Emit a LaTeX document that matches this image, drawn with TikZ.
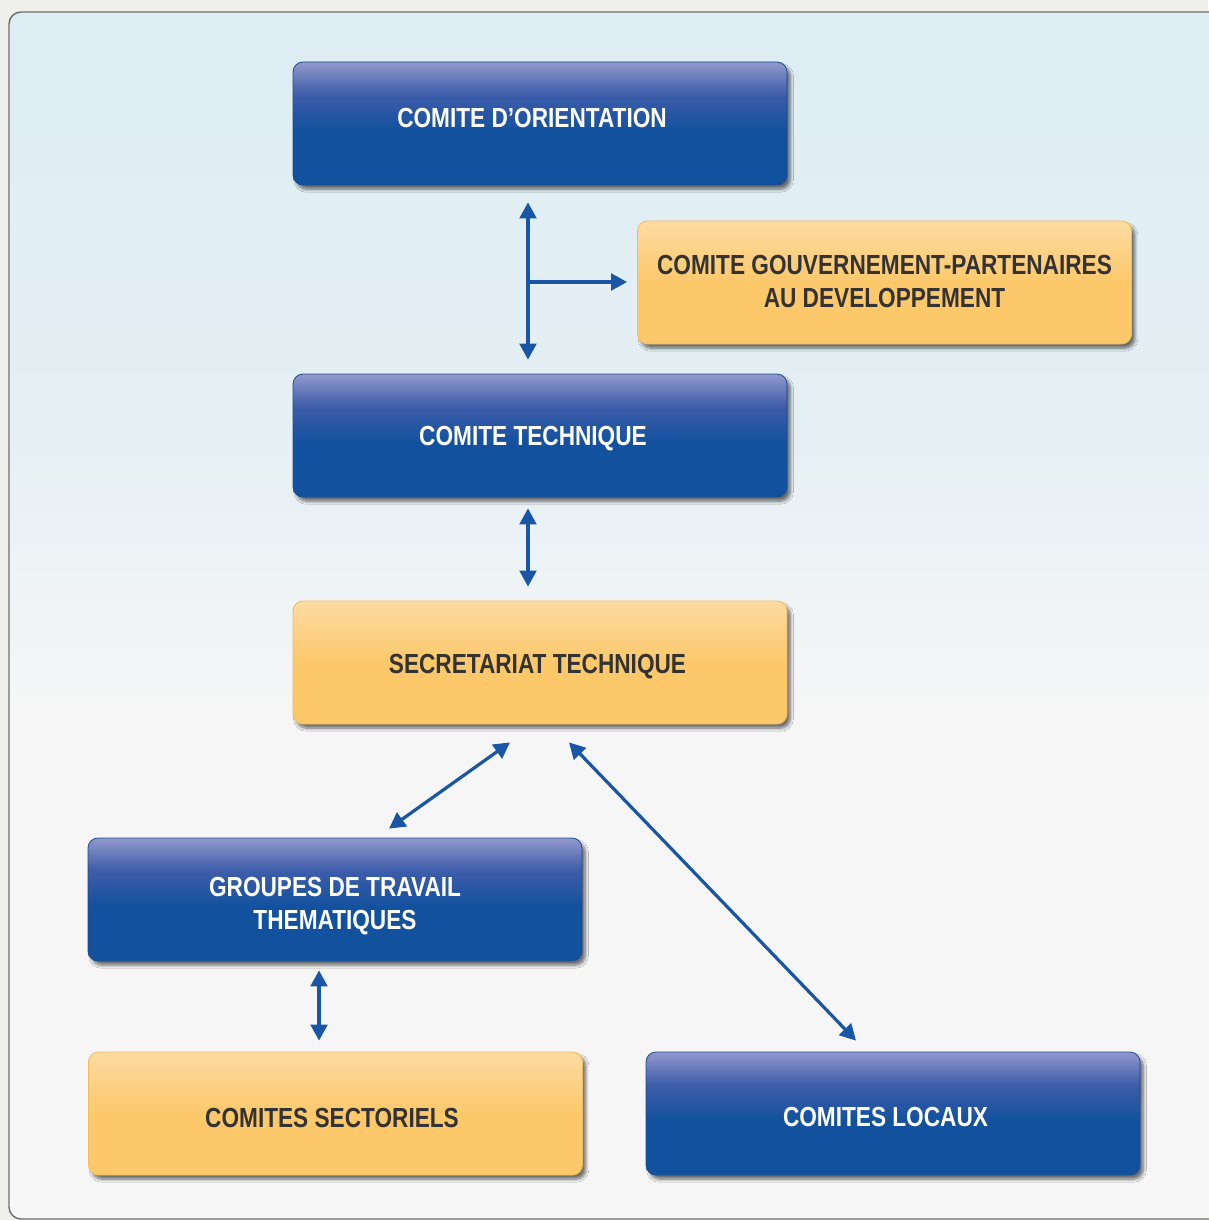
\documentclass[tikz,border=0pt]{standalone}
\usepackage{fontspec}
\setmainfont{Liberation Sans}[FakeStretch=0.82]
\usetikzlibrary{arrows.meta,shadows.blur,calc}
\definecolor{blueB}{HTML}{12519E}
\definecolor{blueM}{HTML}{3E5DAA}
\definecolor{blueT}{HTML}{9299CB}
\definecolor{blueEdge}{HTML}{1A4C90}
\definecolor{orB}{HTML}{FCC86A}
\definecolor{orT}{HTML}{FDDBA3}
\definecolor{orEdge}{HTML}{F2BC58}
\definecolor{bgT}{HTML}{DDEDF3}
\definecolor{bgM}{HTML}{E6F0F4}
\definecolor{bgB}{HTML}{F6F6F6}
\definecolor{outbg}{HTML}{EFEFEC}
\definecolor{frameC}{HTML}{6E6E6E}
\definecolor{arrowc}{HTML}{1A56A8}
\definecolor{txtd}{HTML}{333333}
\pgfdeclareverticalshading{blueshade}{100bp}{color(0bp)=(blueB); color(25bp)=(blueB); color(47bp)=(blueB); color(62bp)=(blueM); color(75bp)=(blueT); color(100bp)=(blueT)}
\pgfdeclareverticalshading{orshade}{100bp}{color(0bp)=(orB); color(25bp)=(orB); color(50bp)=(orB); color(75bp)=(orT); color(100bp)=(orT)}
\pgfdeclareverticalshading{bgshade}{100bp}{color(0bp)=(bgB); color(25bp)=(bgB); color(46bp)=(bgB); color(57bp)=(bgM); color(75bp)=(bgT); color(100bp)=(bgT)}
\begin{document}
\begin{tikzpicture}[x=0.75pt,y=-0.75pt,
  box/.style={rounded corners=7.5pt, minimum width=370.5pt, minimum height=92.25pt,
    inner sep=0pt, line width=0.6pt,
    blur shadow={shadow xshift=2.6pt, shadow yshift=-3.2pt, shadow blur radius=2.2pt,
      shadow blur steps=8, shadow opacity=55}},
  bluebox/.style={box, shade, shading=blueshade, draw=blueEdge},
  orbox/.style={box, shade, shading=orshade, draw=orEdge},
  btxt/.style={align=center, inner sep=0pt, text=white,
    font=\fontsize{20.7}{24.75}\selectfont\bfseries},
  otxt/.style={btxt, text=txtd},
  arr/.style={draw=arrowc, line width=2.4pt,
    {Triangle[length=12pt,width=12.5pt]}-{Triangle[length=12pt,width=12.5pt]}},
  arrone/.style={draw=arrowc, line width=2.4pt, -{Triangle[length=12pt,width=12.5pt]}}]
\fill[outbg] (0,0) rectangle (1208,1220);
\useasboundingbox (0,0) rectangle (1208,1220);
\draw[draw=frameC, line width=1.1pt, rounded corners=9pt, shade, shading=bgshade] (9,12) rectangle (1240,1219);

\node[bluebox] (orient) at (540,123.5) {};
\node[btxt] (orientT) at ($(orient.center)+(-8,-6)$) {COMITE D’ORIENTATION};
\node[orbox] (cgpd) at (884.5,282.5) {};
\node[otxt] (cgpdT) at ($(cgpd.center)+(0,-1)$) {COMITE GOUVERNEMENT-PARTENAIRES\\AU DEVELOPPEMENT};
\node[bluebox] (ctech) at (540,435.5) {};
\node[btxt] (ctechT) at ($(ctech.center)+(-7,3)$) {COMITE TECHNIQUE};
\node[orbox] (sec) at (540,662.5) {};
\node[otxt] (secT) at ($(sec.center)+(-2.5,4)$) {SECRETARIAT TECHNIQUE};
\node[bluebox] (gtt) at (335,899.5) {};
\node[btxt] (gttT) at ($(gtt.center)+(0,7)$) {GROUPES DE TRAVAIL\\THEMATIQUES};
\node[orbox] (csect) at (335.5,1113.5) {};
\node[otxt] (csectT) at ($(csect.center)+(-3.5,4)$) {COMITES SECTORIELS};
\node[bluebox] (cloc) at (893,1113.5) {};
\node[btxt] (clocT) at ($(cloc.center)+(-7.5,3)$) {COMITES LOCAUX};

\coordinate (junc) at (528,282);
\draw[arr] ($(orient.south)+(-12,17)$) -- ($(ctech.north)+(-12,-14)$);
\draw[arrone] (junc) -- ([xshift=-7.5pt]cgpd.west |- junc);
\draw[arr] ($(ctech.south)+(-12,11)$) -- ($(sec.north)+(-12,-14)$);
\draw[arr] ($(sec.south)+(-30,18)$) -- ($(gtt.north)+(54,-9)$);
\draw[arr] ($(sec.south)+(29,18)$) -- ($(cloc.north)+(-37,-11)$);
\draw[arr] ($(gtt.south)+(-16,9)$) -- ($(csect.north)+(-16.5,-11)$);
\end{tikzpicture}
\end{document}
